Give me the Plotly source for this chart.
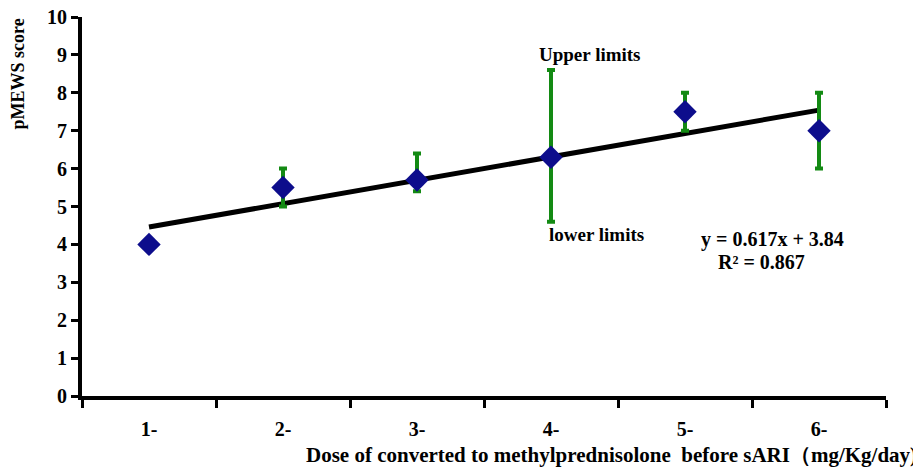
import numpy as np
import plotly.graph_objects as go

categories = ["1-", "2-", "3-", "4-", "5-", "6-"]
scores = [4.0, 5.5, 5.7, 6.3, 7.5, 7.0]
upper_limits = [None, 6.0, 6.4, 8.6, 8.0, 8.0]
lower_limits = [None, 5.0, 5.4, 4.6, 7.0, 6.0]
y_ticks = list(range(0, 11))
equation_text = "y = 0.617x + 3.84"
r2_text = "R² = 0.867"

xnum = np.arange(1, len(scores) + 1)
slope, intercept = np.polyfit(xnum, scores, 1)
fit_vals = slope * xnum + intercept

err_plus = [0 if u is None else u - s for u, s in zip(upper_limits, scores)]
err_minus = [0 if l is None else s - l for l, s in zip(lower_limits, scores)]

FONT = "Liberation Serif"
fig = go.Figure()
fig.add_trace(go.Scatter(
    x=categories, y=fit_vals, mode="lines",
    line=dict(color="black", width=5), showlegend=False,
))
fig.add_trace(go.Scatter(
    x=categories, y=scores, mode="markers",
    marker=dict(symbol="diamond", size=18, color="#0d0d8c"),
    error_y=dict(type="data", symmetric=False, array=err_plus, arrayminus=err_minus,
                 color="#138a13", thickness=4, width=4),
    showlegend=False,
))

# page body has an 8px default margin, so the figure is sized to fill the rest
fig.update_layout(
    width=913, height=461,
    margin=dict(l=74, r=35, t=9, b=73),
    paper_bgcolor="white", plot_bgcolor="white",
    font=dict(family=FONT, color="black"),
    xaxis=dict(
        type="category", range=[-0.5, 5.5], tickson="boundaries",
        ticks="outside", ticklen=8, tickwidth=3, tickcolor="black",
        showline=True, linecolor="black", linewidth=4, showgrid=False,
        tickfont=dict(family=FONT, size=20, color="black", weight="bold"),
        ticklabelstandoff=12, ticklabeloverflow="allow",
        zeroline=False, automargin=False,
    ),
    yaxis=dict(
        range=[0, 10], tickvals=y_ticks, ticks="outside", ticklen=7, tickwidth=3,
        tickcolor="black", showline=True, linecolor="black", linewidth=4,
        showgrid=False, zeroline=False, automargin=False,
        ticklabeloverflow="allow",
        tickfont=dict(family=FONT, size=20, color="black", weight="bold"),
    ),
    annotations=[
        dict(text="<b>pMEWS score</b>", xref="paper", yref="paper",
             x=-0.08, y=0.85, xanchor="center", yanchor="middle", textangle=-90,
             showarrow=False, font=dict(family=FONT, size=18)),
        dict(text="<b>Dose of converted to methylprednisolone  before sARI（mg/Kg/day)</b>",
             xref="paper", yref="paper", x=1.041, y=-0.156, xanchor="right", yanchor="middle",
             showarrow=False, font=dict(family=FONT, size=21)),
        dict(text="<b>Upper limits</b>", xref="x", yref="y", x=3.29, y=9.0,
             showarrow=False, font=dict(family=FONT, size=19)),
        dict(text="<b>lower limits</b>", xref="x", yref="y", x=3.34, y=4.27,
             showarrow=False, font=dict(family=FONT, size=19)),
        dict(text=f"<b>{equation_text}</b>", xref="x", yref="y", x=4.65, y=4.12,
             showarrow=False, font=dict(family=FONT, size=20)),
        dict(text=f"<b>{r2_text}</b>", xref="x", yref="y", x=4.57, y=3.54,
             showarrow=False, font=dict(family=FONT, size=20)),
    ],
)

fig.write_html("out.html")
